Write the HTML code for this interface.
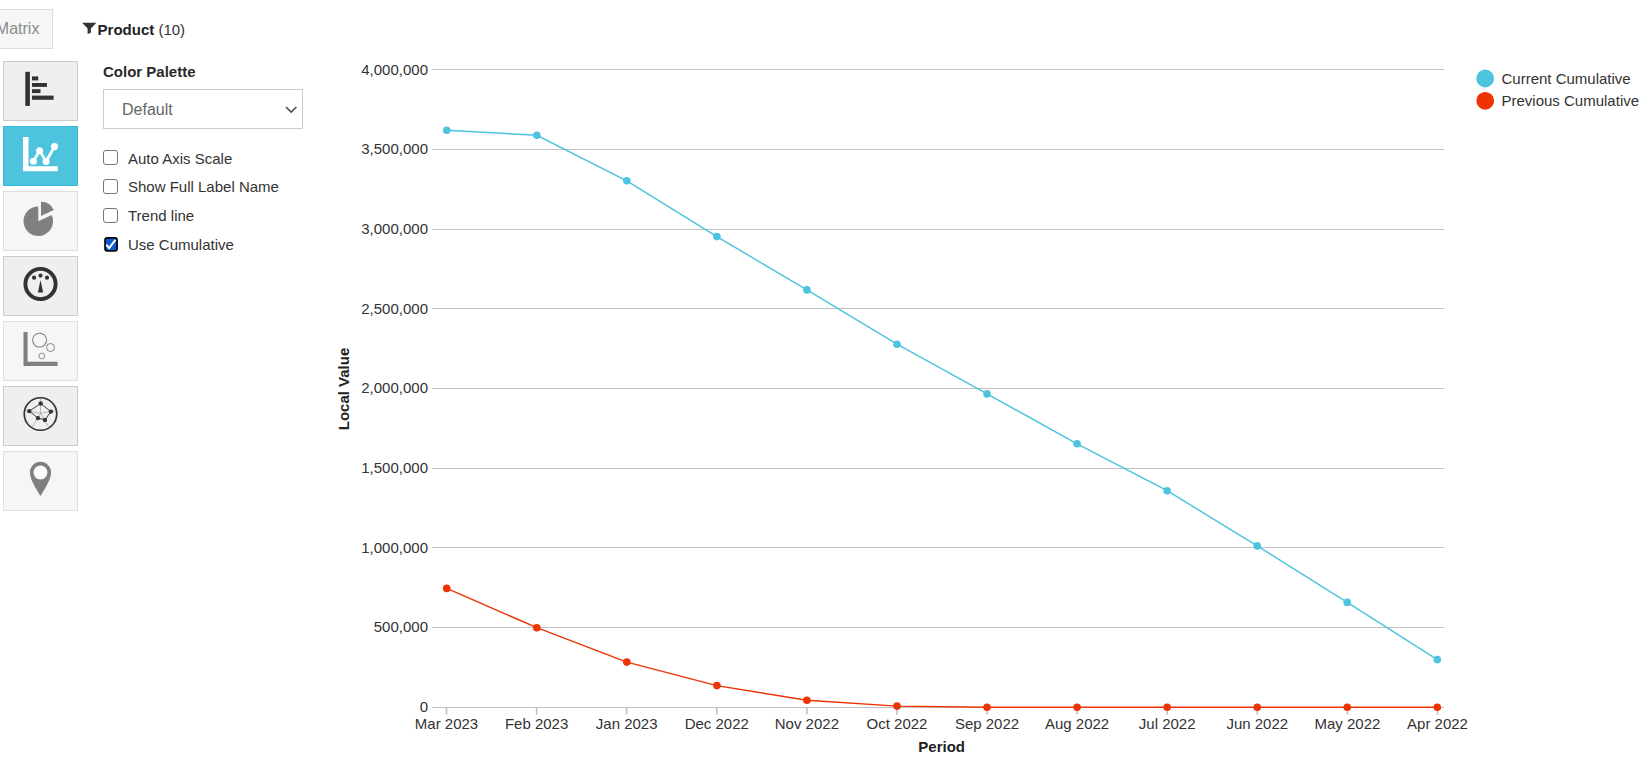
<!DOCTYPE html>
<html lang="en">
<head>
<meta charset="utf-8">
<title>Chart</title>
<style>
*{box-sizing:border-box;margin:0;padding:0}
html,body{width:1640px;height:760px;overflow:hidden;background:#fff}
body{position:relative;font-family:"Liberation Sans",Arial,sans-serif;color:#333;font-size:15px}
.abs{position:absolute}
#tab{left:-40px;top:9px;width:93px;height:40px;border:1px solid #ddd;background:#f5f6f6;color:#8c8c8c;font-size:16px;line-height:37px;text-align:right;padding-right:12.6px;white-space:nowrap}
#filt{left:97.6px;top:20px;height:20px;line-height:20px;font-size:15px;color:#333;white-space:nowrap}
#filt b{font-weight:bold;color:#222}
.btn{left:3px;width:75px;height:60px;border:1px solid #ccc;background:#eeefef}
.btn.dis{border-color:#dedede;background:#f5f6f6}
.btn.act{border-color:#36b9d9;background:#4dc3de}
.btn svg{position:absolute;left:0;top:0}
#cp{left:103px;top:63px;font-weight:bold;font-size:15px;line-height:18px;color:#2a2a2a;white-space:nowrap}
#sel{left:103px;top:89px;width:200px;height:40px;border:1px solid #ccc;background:#fff;color:#666;font-size:16px;line-height:40px;padding-left:18px}
.cb{left:103px;width:15px;height:15px;border:1.2px solid #767676;border-radius:3px;background:#fff}
.cb.on{background:#0b5bd3;border:2px solid #000;border-radius:3.5px}
.cb.on svg{position:absolute;left:-2px;top:-2px}
.lbl{left:128px;font-size:15px;line-height:18px;color:#333;white-space:nowrap}
#chart{left:0;top:0}
</style>
</head>
<body>
<div id="tab" class="abs">Matrix</div>
<svg class="abs" style="left:80px;top:20px" width="20" height="16" viewBox="80 20 20 16"><path d="M82.1 22.8H96.3L90.9 28.4V32.7L87.6 33.9V28.4Z" fill="#333"/></svg>
<div id="filt" class="abs"><b>Product</b> (10)</div>

<div class="abs btn" style="top:61px"></div>
<div class="abs btn act" style="top:126px"></div>
<div class="abs btn dis" style="top:191px"></div>
<div class="abs btn" style="top:256px"></div>
<div class="abs btn dis" style="top:321px"></div>
<div class="abs btn" style="top:386px"></div>
<div class="abs btn dis" style="top:451px"></div>

<div id="cp" class="abs">Color Palette</div>
<div id="sel" class="abs">Default<svg class="abs" style="left:181px;top:16px" width="13" height="8" viewBox="0 0 13 8"><path d="M1 1l5.2 5L11.4 1" fill="none" stroke="#505050" stroke-width="1.7"/></svg></div>

<div class="abs cb" style="top:150px"></div><div class="abs lbl" style="top:150px">Auto Axis Scale</div>
<div class="abs cb" style="top:179px"></div><div class="abs lbl" style="top:178px">Show Full Label Name</div>
<div class="abs cb" style="top:208px"></div><div class="abs lbl" style="top:207px">Trend line</div>
<svg class="abs" style="left:100px;top:233px" width="22" height="22" viewBox="100 233 22 22"><rect x="105.05" y="237.9" width="12" height="13" rx="2.2" fill="#0b5cd4" stroke="#000" stroke-width="1.7"/><path d="M106.3 244.6L109.05 248.1L115.5 239.9" stroke="#fff" stroke-width="2" fill="none"/></svg><div class="abs lbl" style="top:236px">Use Cumulative</div>

<svg id="icons" class="abs" style="left:0;top:0" width="90" height="520" viewBox="0 0 90 520">
<g fill="#333"><rect x="25.3" y="71.8" width="4.6" height="34.1"/><rect x="32" y="76.4" width="6.2" height="4"/><rect x="32" y="83" width="15" height="3.9"/><rect x="32" y="89.2" width="8.5" height="3.9"/><rect x="32" y="95.6" width="21.6" height="4.2"/></g>
<g fill="#fff" stroke="none"><path d="M23 136.9h5.5v29.4h29.3v4.9H23z"/><circle cx="33.35" cy="161.35" r="3.5"/><circle cx="39.6" cy="150.65" r="3.5"/><circle cx="46.05" cy="161.5" r="3.5"/><circle cx="54.5" cy="146.6" r="3.6"/></g><polyline points="33.35,161.35 39.6,150.65 46.05,161.5 54.5,146.6" fill="none" stroke="#fff" stroke-width="2.8" stroke-linejoin="round"/>
<path d="M38.30 221.20L38.30 206.40A14.80 14.80 0 1 0 51.71 214.95Z M41.00 215.95L41.00 201.85A14.10 14.10 0 0 1 53.78 209.99Z" fill="#808080"/>
<circle cx="40.5" cy="284" r="15.1" fill="none" stroke="#333" stroke-width="3.9"/><g fill="#333"><circle cx="34.1" cy="277.7" r="2.1"/><circle cx="40.5" cy="275.6" r="2.1"/><circle cx="47" cy="277.7" r="2.1"/><path d="M40.5 280L43.1 292.5H37.9z"/></g>
<path d="M23.5 331.9h4.1v29.9h30v4.2H23.5z" fill="#808080"/><g fill="none" stroke="#808080"><circle cx="39.6" cy="340.1" r="6.95" stroke-width="1.05"/><circle cx="50.5" cy="347.5" r="4" stroke-width="0.95"/><circle cx="41.8" cy="356.05" r="2.85" stroke-width="0.9"/></g>
<circle cx="40.5" cy="414" r="16.25" fill="none" stroke="#333" stroke-width="1.7"/><g stroke="#777" stroke-width="0.45"><line x1="40.50" y1="413.20" x2="40.50" y2="397.80"/><line x1="40.50" y1="413.20" x2="56.35" y2="410.63"/><line x1="40.50" y1="413.20" x2="49.08" y2="427.74"/><line x1="40.50" y1="413.20" x2="31.92" y2="427.74"/><line x1="40.50" y1="413.20" x2="24.65" y2="410.63"/></g><polygon points="40.70,403.55 50.85,411.60 44.95,419.95 37.95,418.10 29.30,411.10" fill="none" stroke="#333" stroke-width="0.95"/><g fill="#333"><circle cx="40.70" cy="403.55" r="2.2"/><circle cx="50.85" cy="411.60" r="2.2"/><circle cx="44.95" cy="419.95" r="2.2"/><circle cx="37.95" cy="418.10" r="2.2"/><circle cx="29.30" cy="411.10" r="2.2"/></g>
<path d="M40.5 496C36 489 29.9 479 29.9 472.45A10.6 10.6 0 1 1 51.1 472.45C51.1 479 45 489 40.5 496Z" fill="#808080"/><circle cx="40.5" cy="472.5" r="6.9" fill="#fbfbfb"/>
</svg>
<svg id="chart" class="abs" width="1640" height="760" viewBox="0 0 1640 760" font-family="'Liberation Sans',Arial,sans-serif">
<!--CHART-->
<g shape-rendering="crispEdges" stroke="#c2c2c2" stroke-width="1">
<line x1="432" x2="1444" y1="69.5" y2="69.5"/>
<line x1="432" x2="1444" y1="149.5" y2="149.5"/>
<line x1="432" x2="1444" y1="229.5" y2="229.5"/>
<line x1="432" x2="1444" y1="308.5" y2="308.5"/>
<line x1="432" x2="1444" y1="388.5" y2="388.5"/>
<line x1="432" x2="1444" y1="468.5" y2="468.5"/>
<line x1="432" x2="1444" y1="547.5" y2="547.5"/>
<line x1="432" x2="1444" y1="627.5" y2="627.5"/>
<line x1="432" x2="1444" y1="707.5" y2="707.5"/>
</g>
<g stroke="#c0c0c0" stroke-width="1.6">
<line x1="446.50" x2="446.50" y1="708" y2="714.6"/>
<line x1="536.59" x2="536.59" y1="708" y2="714.6"/>
<line x1="626.68" x2="626.68" y1="708" y2="714.6"/>
<line x1="716.77" x2="716.77" y1="708" y2="714.6"/>
<line x1="806.86" x2="806.86" y1="708" y2="714.6"/>
<line x1="896.95" x2="896.95" y1="708" y2="714.6"/>
<line x1="987.04" x2="987.04" y1="708" y2="714.6"/>
<line x1="1077.13" x2="1077.13" y1="708" y2="714.6"/>
<line x1="1167.22" x2="1167.22" y1="708" y2="714.6"/>
<line x1="1257.31" x2="1257.31" y1="708" y2="714.6"/>
<line x1="1347.40" x2="1347.40" y1="708" y2="714.6"/>
<line x1="1437.49" x2="1437.49" y1="708" y2="714.6"/>
</g>
<g font-size="15" fill="#333" text-anchor="end">
<text x="428" y="75.0">4,000,000</text>
<text x="428" y="154.0">3,500,000</text>
<text x="428" y="234.0">3,000,000</text>
<text x="428" y="314.0">2,500,000</text>
<text x="428" y="393.0">2,000,000</text>
<text x="428" y="473.0">1,500,000</text>
<text x="428" y="553.0">1,000,000</text>
<text x="428" y="632.0">500,000</text>
<text x="428" y="712.0">0</text>
</g>
<g font-size="15" fill="#333" text-anchor="middle">
<text x="446.5" y="729">Mar 2023</text>
<text x="536.6" y="729">Feb 2023</text>
<text x="626.7" y="729">Jan 2023</text>
<text x="716.8" y="729">Dec 2022</text>
<text x="806.9" y="729">Nov 2022</text>
<text x="897.0" y="729">Oct 2022</text>
<text x="987.0" y="729">Sep 2022</text>
<text x="1077.1" y="729">Aug 2022</text>
<text x="1167.2" y="729">Jul 2022</text>
<text x="1257.3" y="729">Jun 2022</text>
<text x="1347.4" y="729">May 2022</text>
<text x="1437.5" y="729">Apr 2022</text>
</g>
<text x="941.7" y="751.5" font-size="15" font-weight="bold" fill="#222" text-anchor="middle">Period</text>
<text transform="translate(349.2,389) rotate(-90)" font-size="15" font-weight="bold" fill="#222" text-anchor="middle">Local Value</text>
<polyline points="446.75,130.3 536.80,135.3 626.85,180.8 716.90,236.6 806.95,289.9 897.00,344.2 987.05,393.9 1077.10,443.8 1167.15,490.7 1257.20,545.9 1347.25,602.4 1437.30,659.6" fill="none" stroke="#4dc3de" stroke-width="1.45"/>
<g fill="#4dc3de"><circle cx="446.75" cy="130.3" r="3.8"/><circle cx="536.80" cy="135.3" r="3.8"/><circle cx="626.85" cy="180.8" r="3.8"/><circle cx="716.90" cy="236.6" r="3.8"/><circle cx="806.95" cy="289.9" r="3.8"/><circle cx="897.00" cy="344.2" r="3.8"/><circle cx="987.05" cy="393.9" r="3.8"/><circle cx="1077.10" cy="443.8" r="3.8"/><circle cx="1167.15" cy="490.7" r="3.8"/><circle cx="1257.20" cy="545.9" r="3.8"/><circle cx="1347.25" cy="602.4" r="3.8"/><circle cx="1437.30" cy="659.6" r="3.8"/></g>
<polyline points="446.75,588.4 536.80,627.7 626.85,662.1 716.90,685.6 806.95,700.3 897.00,706.1 987.05,707.2 1077.10,707.2 1167.15,707.2 1257.20,707.2 1347.25,707.2 1437.30,707.2" fill="none" stroke="#ee3305" stroke-width="1.45"/>
<g fill="#ee3305"><circle cx="446.75" cy="588.4" r="3.8"/><circle cx="536.80" cy="627.7" r="3.8"/><circle cx="626.85" cy="662.1" r="3.8"/><circle cx="716.90" cy="685.6" r="3.8"/><circle cx="806.95" cy="700.3" r="3.8"/><circle cx="897.00" cy="706.1" r="3.8"/><circle cx="987.05" cy="707.2" r="3.8"/><circle cx="1077.10" cy="707.2" r="3.8"/><circle cx="1167.15" cy="707.2" r="3.8"/><circle cx="1257.20" cy="707.2" r="3.8"/><circle cx="1347.25" cy="707.2" r="3.8"/><circle cx="1437.30" cy="707.2" r="3.8"/></g>
<circle cx="1485.2" cy="78.5" r="8.9" fill="#4dc3de"/><circle cx="1485.2" cy="100.8" r="8.9" fill="#ee3305"/>
<g font-size="15" fill="#333"><text x="1501.5" y="83.8">Current Cumulative</text><text x="1501.5" y="105.8">Previous Cumulative</text></g>
<!--/CHART-->
</svg>
</body>
</html>
